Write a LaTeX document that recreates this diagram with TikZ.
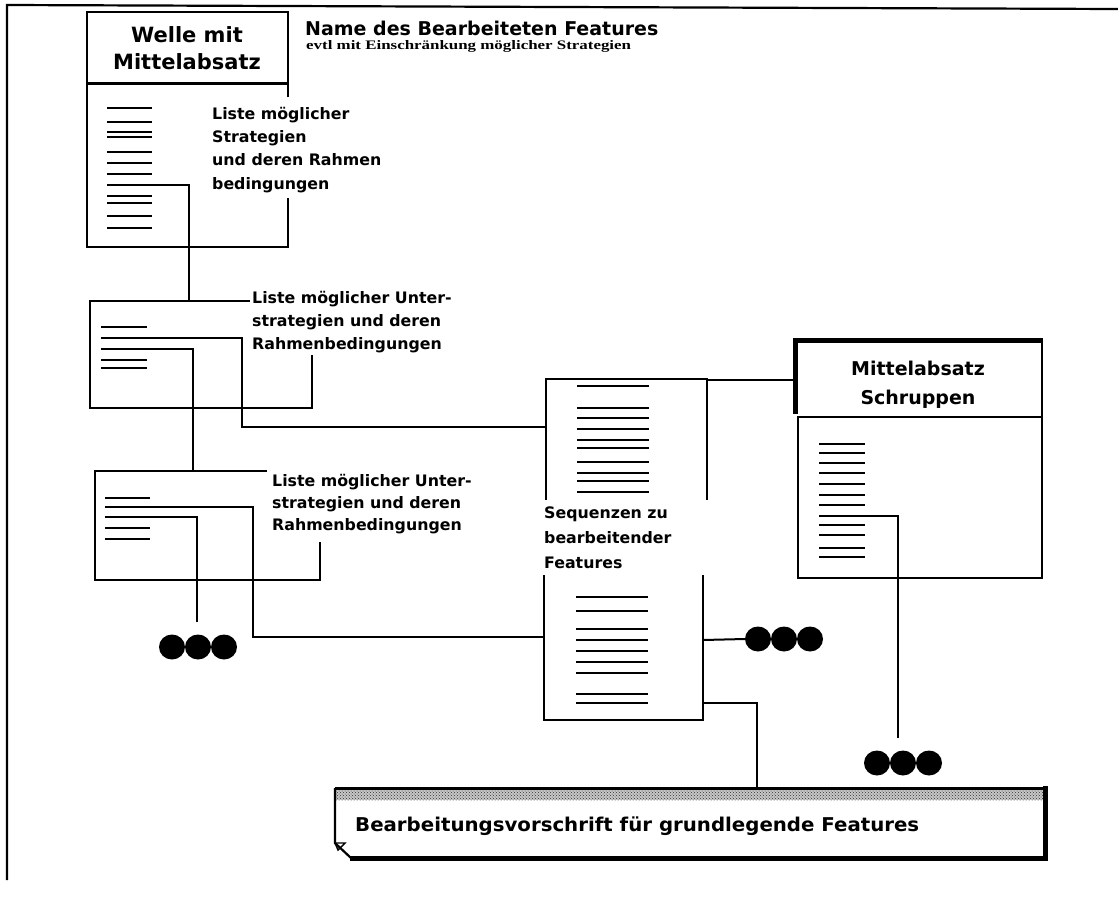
\documentclass[tikz,border=0pt]{standalone}
\usepackage{fontspec}
\usepackage{graphicx}
\setmainfont{DejaVu Sans}
\newfontfamily\serifb{Liberation Serif}
\usetikzlibrary{patterns,shapes.geometric}
\begin{document}
\begin{tikzpicture}[x=1pt,y=-1pt,
  frame/.style={line width=2.2pt},
  lst/.style={line width=2.8pt},
  conn/.style={line width=2pt},
  lbl/.style={font=\bfseries\fontsize{15.8}{23.3}\selectfont, align=left, inner sep=0pt, anchor=north west},
  ttl/.style={font=\bfseries\fontsize{21}{27}\selectfont, align=center, inner sep=0pt},
  bigdot/.style={ellipse, fill=black, minimum width=26pt, minimum height=25pt, inner sep=0pt},
]
\fill[white] (0,0) rectangle (1118,908);
\useasboundingbox (0,0) rectangle (1118,908);

% outer frame
\draw[frame] (1118,9) -- (7,5) -- (7,880);

% header texts
\node[font=\bfseries\fontsize{19}{23}\selectfont, anchor=west, inner sep=0pt] (name) at (305,28) {Name des Bearbeiteten Features};
\node[anchor=base west, inner sep=0pt] (evtl) at (306,49) {\scalebox{1.3}[1]{\serifb\bfseries\fontsize{13}{15}\selectfont evtl mit Einschränkung möglicher Strategien}};

% ---------- Box 1
\draw[frame] (288,97) -- (288,12) -- (87,12) -- (87,247) -- (288,247) -- (288,198);
\draw[line width=3pt] (87,83) -- (288,83);
\node[ttl] (t1) at (187,48) {Welle mit\\Mittelabsatz};
\node[lbl] (l1) at (212,106.8) {Liste möglicher\\Strategien\\und deren Rahmen\\bedingungen};
\foreach \y in {108,122,132,137,152,163,174,185,196,203,216,228}
  \draw[lst] (107,\y) -- (152,\y);
\coordinate (b1a) at (152,185);

% ---------- Box 2
\draw[frame] (250,301) -- (90,301) -- (90,408) -- (312,408) -- (312,355);
\coordinate (b2top) at (189,301);
\node[lbl, font=\bfseries\fontsize{15.8}{23}\selectfont] (l2) at (252,291) {Liste möglicher Unter-\\strategien und deren\\Rahmenbedingungen};
\foreach \y in {327,338,349,360,368}
  \draw[lst] (101,\y) -- (147,\y);
\coordinate (b2a) at (147,338);
\coordinate (b2b) at (147,349);

% ---------- Box 3
\draw[frame] (267,471) -- (95,471) -- (95,580) -- (320,580) -- (320,542);
\coordinate (b3top) at (193,471);
\node[lbl, font=\bfseries\fontsize{15.8}{22}\selectfont] (l3) at (272,474) {Liste möglicher Unter-\\strategien und deren\\Rahmenbedingungen};
\foreach \y in {498,507,517,528,539}
  \draw[lst] (105,\y) -- (150,\y);
\coordinate (b3a) at (150,507);
\coordinate (b3b) at (150,517);

% ---------- middle sequence box (upper)
\draw[frame] (546,500) -- (546,379) -- (707,379) -- (707,500);
\foreach \y in {386,408,418,429,440,448,462,473,481,492}
  \draw[lst] (577,\y) -- (649,\y);
\coordinate (mul) at (546,427);
\coordinate (mur) at (707,380);
\node[lbl, font=\bfseries\fontsize{15.8}{25}\selectfont] (seq) at (544,507) {Sequenzen zu\\bearbeitender\\Features};

% ---------- middle sequence box (lower)
\draw[frame] (544,575) -- (544,720) -- (703,720) -- (703,575);
\foreach \y in {597,611,629,640,651,662,673,694,703}
  \draw[lst] (576,\y) -- (648,\y);
\coordinate (mll) at (544,637);
\coordinate (mlr) at (703,640);
\coordinate (mlr2) at (703,703);

% ---------- right box
\draw[line width=5pt] (795.5,414) -- (795.5,340) -- (1042,340);
\draw[frame] (1042,338) -- (1042,578) -- (798,578) -- (798,417) -- (1042,417);
\coordinate (rbl) at (795,380);
\node[ttl, font=\bfseries\fontsize{19}{29}\selectfont] (t2) at (918,384.5) {Mittelabsatz\\Schruppen};
\foreach \y in {444,453,463,473,484,495,505,516,525,535,548,557}
  \draw[lst] (819,\y) -- (865,\y);
\coordinate (rba) at (865,516);

% ---------- bottom box
\fill[black!22] (336,790) rectangle (1043,800);
\fill[pattern=crosshatch dots, pattern color=black!80] (336,790) rectangle (1043,800);
\draw[line width=3pt] (335,788) -- (1045,788);
\draw[frame] (335,788) -- (335,843) -- (351,858);
\draw[line width=5pt] (1045,786) -- (1045,858) -- (350,858);
\draw[line width=1.4pt] (335,843) -- (345,843) -- (338,850) -- cycle;
\coordinate (bbt) at (757,787);
\node[anchor=base west, inner sep=0pt] (bb) at (355,831) {\scalebox{1.04}[1]{\bfseries\fontsize{19}{23}\selectfont Bearbeitungsvorschrift für grundlegende Features}};

% ---------- dots
\node[bigdot] (d1) at (172,647) {};
\node[bigdot] (d2) at (198,647) {};
\node[bigdot] (d3) at (224,647) {};
\node[bigdot] (d4) at (758,639) {};
\node[bigdot] (d5) at (784,639) {};
\node[bigdot] (d6) at (810,639) {};
\node[bigdot] (d7) at (877,763) {};
\node[bigdot] (d8) at (903,763) {};
\node[bigdot] (d9) at (929,763) {};
\coordinate (e1) at (197,622);
\coordinate (e2) at (898,738);
\coordinate (k1) at (242,427);
\coordinate (k2) at (253,637);

% ---------- connectors
\draw[conn] (b1a) -| (b2top);
\draw[conn] (b2a) -| (k1) -- (mul);
\draw[conn] (b2b) -| (b3top);
\draw[conn] (b3a) -| (k2) -- (mll);
\draw[conn] (b3b) -| (e1);
\draw[conn] (mur) -- (rbl);
\draw[conn] (mlr) -- (d4.west);
\draw[conn] (mlr2) -| (bbt);
\draw[conn] (rba) -| (e2);
\end{tikzpicture}
\end{document}
